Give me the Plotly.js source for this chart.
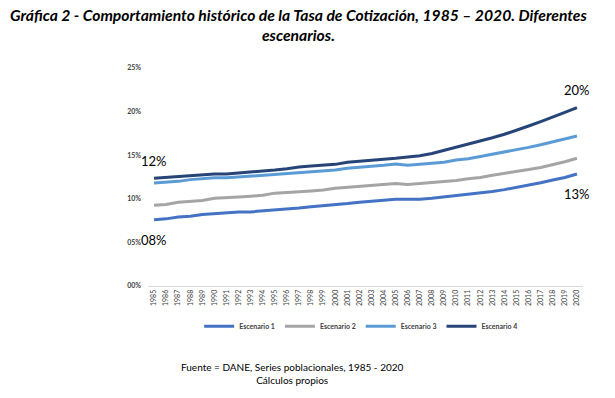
<!DOCTYPE html>
<html>
<head>
<meta charset="utf-8">
<script src="https://cdn.plot.ly/plotly-3.0.1.min.js"></script>
<style>html,body{margin:0;padding:0;background:#fff;}#chart{width:615px;height:398px;}</style>
</head>
<body>
<div id="chart"></div>
<script>
var years = ["1985","1986","1987","1988","1989","1990","1991","1992","1993","1994","1995","1996","1997","1998","1999","2000","2001","2002","2003","2004","2005","2006","2007","2008","2009","2010","2011","2012","2013","2014","2015","2016","2017","2018","2019","2020"];
var escenario1 = [7.6,7.7,7.9,8.0,8.2,8.3,8.4,8.5,8.5,8.6,8.7,8.85,8.95,9.1,9.2,9.35,9.45,9.6,9.7,9.85,9.95,9.95,9.95,10.05,10.2,10.4,10.5,10.7,10.85,11.05,11.3,11.55,11.85,12.15,12.45,12.85];
var escenario2 = [9.25,9.35,9.6,9.7,9.8,10.05,10.1,10.2,10.3,10.4,10.65,10.7,10.8,10.9,11.0,11.2,11.3,11.4,11.5,11.6,11.75,11.65,11.75,11.85,11.95,12.1,12.3,12.45,12.7,12.9,13.1,13.35,13.6,13.9,14.25,14.65];
var escenario3 = [11.8,11.9,12.0,12.2,12.3,12.4,12.4,12.5,12.55,12.65,12.75,12.85,12.95,13.05,13.15,13.3,13.5,13.6,13.75,13.85,14.0,13.85,13.95,14.1,14.2,14.45,14.6,14.85,15.1,15.35,15.6,15.9,16.2,16.55,16.85,17.2];
var escenario4 = [12.35,12.45,12.55,12.65,12.75,12.85,12.85,12.95,13.05,13.2,13.3,13.45,13.65,13.75,13.85,13.95,14.2,14.3,14.45,14.55,14.65,14.8,14.95,15.2,15.55,15.9,16.3,16.65,17.0,17.4,17.85,18.35,18.85,19.35,19.9,20.45];
var seriesNames = ["Escenario 1","Escenario 2","Escenario 3","Escenario 4"];
var yTickVals = [0,5,10,15,20,25];
var yTickText = ["00%","05%","10%","15%","20%","25%"];
var titleText = "Gráfica 2 - Comportamiento histórico de la Tasa de Cotización, 1985 – 2020. Diferentes<br>escenarios.";
var sourceText = "Fuente = DANE, Series poblacionales, 1985 - 2020<br>Cálculos propios";

var colors = ["#4472C4","#A5A5A5","#5B9BD5","#264478"];
var allSeries = [escenario1, escenario2, escenario3, escenario4];
var traces = allSeries.map(function(s,i){
  return {x: years, y: s, type:'scatter', mode:'lines', name: seriesNames[i],
    line:{color: colors[i], width:3}};
});

function pct(v){ var r = Math.round(v); return (r<10?"0":"")+r+"%"; }
var n = years.length;
var fam = "Lato, 'Open Sans', sans-serif";
var lblFont = {family:fam, size:13, color:"#000"};
var annotations = [
  {x: 0, y: escenario4[0], text: pct(escenario4[0]), yshift:17},
  {x: 0, y: escenario1[0], text: pct(escenario1[0]), yshift:-20},
  {x: n-1, y: escenario4[n-1], text: pct(escenario4[n-1]), yshift:18},
  {x: n-1, y: escenario1[n-1], text: pct(escenario1[n-1]), yshift:-20}
].map(function(a){ a.xref='x'; a.yref='y'; a.showarrow=false; a.font=lblFont; return a; });
annotations.push({xref:'paper', yref:'paper', x:0.333, y:-0.336, xanchor:'center', yanchor:'top',
  text: sourceText, showarrow:false, align:'center',
  font:{family:fam, size:10, color:"#000"}});
annotations.push({xref:'paper', yref:'paper', x:0.345, y:1.295, xanchor:'center', yanchor:'top',
  text: titleText, showarrow:false, align:'center',
  font:{family:fam, size:15.7, color:'#000', weight:'bold', style:'italic'}});

var layout = {
  width:615, height:398,
  margin:{l:148, r:32, t:68, b:112},
  paper_bgcolor:'#fff', plot_bgcolor:'#fff',
  xaxis:{type:'category', range:[-0.5, n-0.5], tickangle:-90, showgrid:false, zeroline:false,
    showline:true, linecolor:'#D9D9D9', linewidth:1, ticks:'',
    tickfont:{family:fam, size:7, color:'#404040'}},
  yaxis:{range:[0,25], tickvals:yTickVals, ticktext:yTickText, showgrid:false, zeroline:false,
    showline:false, ticks:'', ticklabelstandoff:6,
    tickfont:{family:fam, size:7, color:'#404040', weight:'bold'}},
  showlegend:true,
  legend:{orientation:'h', x:0.49, xanchor:'center', y:-0.118, yanchor:'top',
    font:{family:fam, size:7, color:'#404040', weight:'bold'}},
  annotations: annotations
};
Plotly.newPlot('chart', traces, layout, {displayModeBar:false, staticPlot:true});
</script>
</body>
</html>
